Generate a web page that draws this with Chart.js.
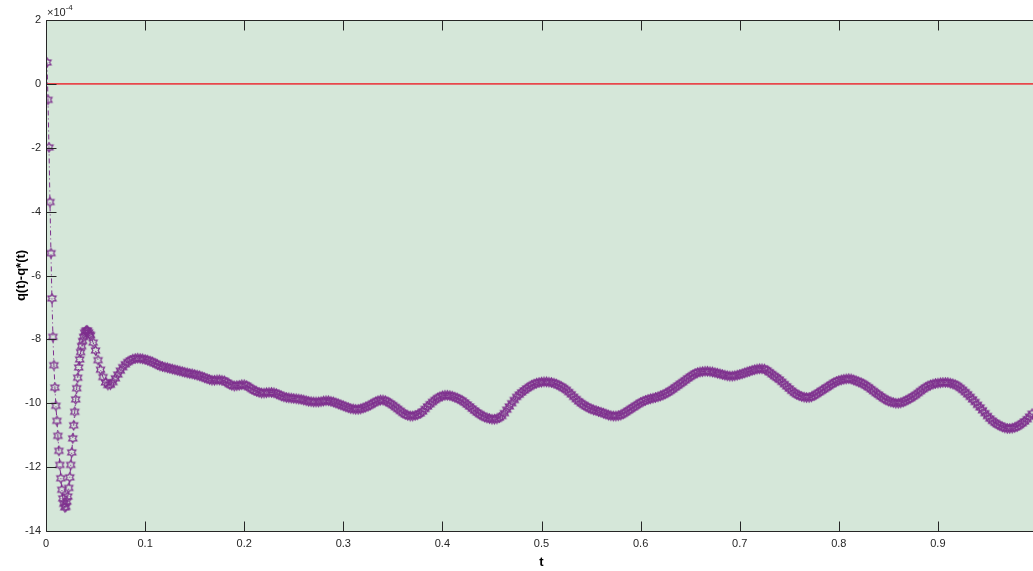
<!DOCTYPE html>
<html lang="en">
<head>
<meta charset="UTF-8">
<title>q(t)-q*(t)</title>
<script src="https://cdn.jsdelivr.net/npm/chart.js"></script>
<style>
    html, body {
        margin: 0;
        padding: 0;
        background: #ffffff;
        overflow: hidden;
    }
    .chart-box {
        position: relative;
        width: 1045px;
        height: 571px;
    }
</style>
</head>
<body>
<div class="chart-box"><canvas id="errChart"></canvas></div>
<script>
    // start-up transient, one sample per millisecond (units of 1e-4)
    const startT0 = 0.001;
    const startDt = 0.001;
    const errStart = [
        0.67, -0.5, -1.99, -3.70, -5.3, -6.72, -7.92, -8.81, -9.51, -10.08,
        -10.55, -11.02, -11.49, -11.93, -12.35, -12.71, -12.98, -13.15, -13.26, -13.24,
        -13.08, -12.92, -12.65, -12.32, -11.93, -11.54, -11.1, -10.69, -10.27, -9.88,
        -9.53, -9.2, -8.88, -8.63, -8.4, -8.21, -8.05, -7.92, -7.79, -7.74,
        -7.72, -7.73, -7.78, -7.84
    ];

    // rest of the run, every 2.5 ms
    const bandT0 = 0.045;
    const bandDt = 0.0025;
    const errBand = [
        -7.87, -8.10, -8.35, -8.65, -8.95, -9.18, -9.35, -9.43, -9.42, -9.34, -9.22, -9.10, -8.98, -8.87, -8.78, -8.71, -8.66, -8.62, -8.60, -8.59,
        -8.60, -8.61, -8.63, -8.65, -8.68, -8.71, -8.75, -8.79, -8.83, -8.85, -8.87, -8.89, -8.91, -8.93, -8.95, -8.97, -8.99, -9.01, -9.03, -9.05,
        -9.07, -9.08, -9.10, -9.12, -9.14, -9.17, -9.20, -9.23, -9.26, -9.28, -9.28, -9.27, -9.27, -9.28, -9.30, -9.35, -9.40, -9.44, -9.46, -9.45,
        -9.44, -9.42, -9.42, -9.45, -9.50, -9.55, -9.60, -9.63, -9.66, -9.68, -9.68, -9.67, -9.66, -9.66, -9.67, -9.70, -9.73, -9.77, -9.80, -9.82,
        -9.83, -9.84, -9.85, -9.86, -9.87, -9.88, -9.90, -9.92, -9.94, -9.95, -9.96, -9.96, -9.96, -9.95, -9.93, -9.92, -9.92, -9.94, -9.96, -9.99,
        -10.02, -10.05, -10.08, -10.11, -10.14, -10.17, -10.18, -10.19, -10.19, -10.18, -10.15, -10.12, -10.09, -10.05, -10.00, -9.96, -9.92, -9.90, -9.90, -9.92,
        -9.96, -10.01, -10.06, -10.12, -10.18, -10.24, -10.30, -10.35, -10.38, -10.40, -10.40, -10.38, -10.36, -10.32, -10.26, -10.18, -10.10, -10.03, -9.96, -9.90,
        -9.84, -9.80, -9.77, -9.75, -9.75, -9.76, -9.78, -9.81, -9.84, -9.88, -9.92, -9.98, -10.04, -10.10, -10.17, -10.23, -10.29, -10.34, -10.39, -10.43,
        -10.46, -10.48, -10.50, -10.50, -10.49, -10.45, -10.40, -10.31, -10.20, -10.10, -10.00, -9.90, -9.80, -9.73, -9.66, -9.60, -9.54, -9.49, -9.44, -9.40,
        -9.37, -9.35, -9.34, -9.33, -9.33, -9.34, -9.35, -9.37, -9.40, -9.44, -9.48, -9.53, -9.58, -9.65, -9.72, -9.80, -9.87, -9.94, -10.00, -10.05,
        -10.10, -10.14, -10.18, -10.21, -10.23, -10.26, -10.28, -10.31, -10.34, -10.37, -10.39, -10.40, -10.40, -10.39, -10.37, -10.33, -10.28, -10.23, -10.18, -10.13,
        -10.08, -10.03, -9.98, -9.94, -9.91, -9.88, -9.86, -9.84, -9.82, -9.80, -9.77, -9.74, -9.70, -9.66, -9.61, -9.56, -9.50, -9.45, -9.39, -9.34,
        -9.28, -9.22, -9.17, -9.12, -9.07, -9.04, -9.02, -9.01, -9.00, -9.00, -9.01, -9.02, -9.04, -9.06, -9.08, -9.10, -9.12, -9.14, -9.15, -9.15,
        -9.14, -9.12, -9.10, -9.08, -9.05, -9.02, -9.00, -8.97, -8.95, -8.93, -8.92, -8.92, -8.93, -8.97, -9.03, -9.09, -9.15, -9.20, -9.26, -9.33,
        -9.40, -9.47, -9.54, -9.61, -9.67, -9.72, -9.76, -9.79, -9.81, -9.82, -9.82, -9.80, -9.76, -9.71, -9.66, -9.61, -9.56, -9.51, -9.46, -9.41,
        -9.36, -9.32, -9.29, -9.27, -9.25, -9.24, -9.23, -9.24, -9.27, -9.30, -9.33, -9.36, -9.40, -9.45, -9.50, -9.56, -9.62, -9.68, -9.73, -9.79,
        -9.84, -9.89, -9.93, -9.96, -9.98, -10.00, -10.00, -9.99, -9.96, -9.92, -9.88, -9.84, -9.79, -9.74, -9.68, -9.62, -9.56, -9.51, -9.46, -9.43,
        -9.40, -9.38, -9.37, -9.36, -9.35, -9.35, -9.35, -9.37, -9.39, -9.42, -9.46, -9.52, -9.58, -9.65, -9.72, -9.80, -9.88, -9.96, -10.05, -10.13,
        -10.22, -10.31, -10.40, -10.48, -10.55, -10.61, -10.66, -10.70, -10.74, -10.77, -10.79, -10.79, -10.78, -10.76, -10.73, -10.68, -10.63, -10.57, -10.50, -10.42,
        -10.33
    ];

    const xTicks = [0, 0.1, 0.2, 0.3, 0.4, 0.5, 0.6, 0.7, 0.8, 0.9];
    const yTicks = [2, 0, -2, -4, -6, -8, -10, -12, -14];
    const refLevel = 0;

    const PURPLE = '#7e2f8e';
    const AXIS = '#262626';
    const FONT = '"Liberation Sans", Arial, sans-serif';

    const points = [];
    errStart.forEach((v, i) => points.push({ x: startT0 + i * startDt, y: v }));
    errBand.forEach((v, i) => points.push({ x: bandT0 + i * bandDt, y: v }));

    // six-pointed star marker, outline only
    function hexagram(R) {
        const size = Math.ceil(R * 2 + 3);
        const c = document.createElement('canvas');
        c.width = size;
        c.height = size;
        const g = c.getContext('2d');
        const r = R / Math.sqrt(3);
        g.beginPath();
        for (let k = 0; k < 12; k++) {
            const a = -Math.PI / 2 + k * Math.PI / 6;
            const rad = k % 2 === 0 ? R : r;
            const px = size / 2 + rad * Math.cos(a);
            const py = size / 2 + rad * Math.sin(a);
            if (k === 0) g.moveTo(px, py); else g.lineTo(px, py);
        }
        g.closePath();
        g.strokeStyle = PURPLE;
        g.lineWidth = 1.25;
        g.stroke();
        return c;
    }
    const starMark = hexagram(4.6);

    // axes background, box, inward ticks and the exponent note
    const matFrame = {
        id: 'matFrame',
        beforeDatasetsDraw(chart) {
            const { ctx, chartArea: a } = chart;
            ctx.save();
            ctx.fillStyle = '#d5e7d9';
            ctx.fillRect(a.left, a.top, a.right - a.left, a.bottom - a.top);
            ctx.restore();
        },
        afterDatasetsDraw(chart) {
            const { ctx, chartArea: a, scales } = chart;
            const xs = scales.x, ys = scales.y;
            const L = Math.round(a.left) + 0.5;
            const T = Math.round(a.top) + 0.5;
            const B = Math.round(a.bottom) + 0.5;
            const R = Math.round(a.right) + 0.5;
            ctx.save();
            ctx.strokeStyle = AXIS;
            ctx.lineWidth = 1;
            ctx.beginPath();
            ctx.moveTo(R, T); ctx.lineTo(L, T); ctx.lineTo(L, B); ctx.lineTo(R, B);
            xTicks.forEach(v => {
                const px = Math.round(xs.getPixelForValue(v)) + 0.5;
                ctx.moveTo(px, B); ctx.lineTo(px, B - 10);
                ctx.moveTo(px, T); ctx.lineTo(px, T + 10);
            });
            yTicks.forEach(v => {
                const py = Math.round(ys.getPixelForValue(v)) + 0.5;
                ctx.moveTo(L, py); ctx.lineTo(L + 10, py);
            });
            ctx.stroke();

            ctx.fillStyle = AXIS;
            ctx.textBaseline = 'alphabetic';
            ctx.font = '11px ' + FONT;
            ctx.fillText('\u00d710', a.left + 1, a.top - 4);
            const w = ctx.measureText('\u00d710').width;
            ctx.font = '8px ' + FONT;
            ctx.fillText('-4', a.left + 1 + w, a.top - 10);
            ctx.restore();
        }
    };

    new Chart(document.getElementById('errChart'), {
        type: 'scatter',
        data: {
            datasets: [
                {
                    data: points,
                    showLine: true,
                    borderColor: PURPLE,
                    borderWidth: 1,
                    borderDash: [5, 3, 1, 3],
                    pointStyle: starMark,
                    pointRadius: 4,
                    pointHoverRadius: 4
                },
                {
                    data: [{ x: 0, y: refLevel }, { x: 1, y: refLevel }],
                    showLine: true,
                    borderColor: '#e8474b',
                    borderWidth: 1.6,
                    pointRadius: 0
                }
            ]
        },
        options: {
            responsive: true,
            maintainAspectRatio: false,
            animation: false,
            events: [],
            layout: { padding: { left: 0, right: 8, top: 20, bottom: 0 } },
            plugins: {
                legend: { display: false },
                tooltip: { enabled: false }
            },
            scales: {
                x: {
                    type: 'linear',
                    min: 0,
                    max: 1,
                    afterFit: s => { s.height = 40; },
                    afterBuildTicks: s => { s.ticks = xTicks.map(v => ({ value: v })); },
                    grid: { display: false, drawTicks: false },
                    border: { display: false },
                    ticks: {
                        color: AXIS,
                        font: { family: FONT, size: 11 },
                        padding: 6,
                        maxRotation: 0,
                        callback: v => String(v)
                    },
                    title: {
                        display: true,
                        text: 't',
                        color: '#000',
                        font: { family: FONT, size: 13, weight: 'bold', lineHeight: 1.2 },
                        padding: { top: 0, bottom: 1 }
                    }
                },
                y: {
                    min: -14,
                    max: 2,
                    afterFit: s => { s.width = 46; },
                    afterBuildTicks: s => { s.ticks = yTicks.map(v => ({ value: v })); },
                    grid: { display: false, drawTicks: false },
                    border: { display: false },
                    ticks: {
                        color: AXIS,
                        font: { family: FONT, size: 11 },
                        padding: 5,
                        callback: v => String(v)
                    },
                    title: {
                        display: true,
                        text: 'q(t)-q*(t)',
                        color: '#000',
                        font: { family: FONT, size: 13, weight: 'bold' },
                        padding: { top: 14, bottom: 0 }
                    }
                }
            }
        },
        plugins: [matFrame]
    });
</script>
</body>
</html>
